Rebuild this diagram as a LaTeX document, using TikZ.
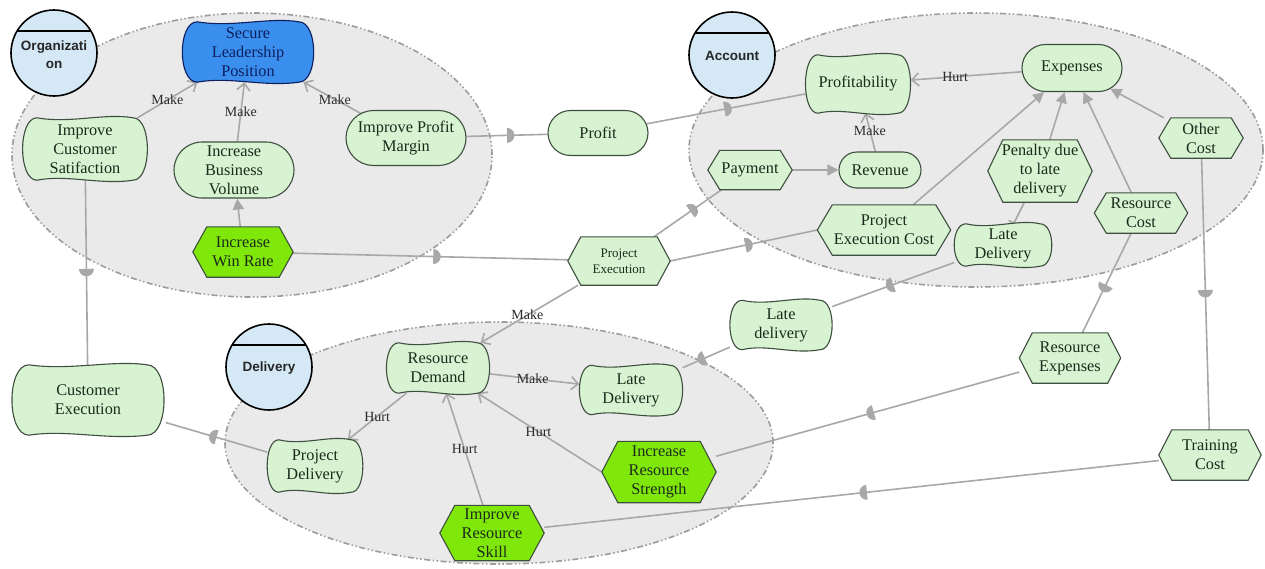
\documentclass[tikz,border=0pt]{standalone}
\usepackage{fontspec}
\setmainfont{Liberation Serif}
\setsansfont{Liberation Sans}
\usetikzlibrary{shapes.misc,arrows.meta,calc,decorations.markings}
\pgfdeclarelayer{ell}\pgfdeclarelayer{edges}\pgfdeclarelayer{shp}
\pgfsetlayers{ell,edges,shp,main}
\definecolor{ellfill}{HTML}{EAEAEA}
\definecolor{elldraw}{HTML}{9C9C9C}
\definecolor{nodefill}{HTML}{D7F3D1}
\definecolor{bright}{HTML}{80E70A}
\definecolor{slpblue}{HTML}{3A8FEE}
\definecolor{slptext}{HTML}{0D1F5E}
\definecolor{circfill}{HTML}{D4E9F5}
\definecolor{edgecol}{HTML}{A8A8A8}
\definecolor{bordercol}{HTML}{3F4F3F}
\definecolor{txtcol}{HTML}{1C2A1C}
\definecolor{lblcol}{HTML}{2A2A2A}
\newcommand\wavyshape[3]{%
\path[draw=#3, line width=1.1pt, fill=#2]
 ($(#1.north west)!0.12!(#1.north east)$)
 .. controls ($(#1.north west)!0.38!(#1.north east)+(0pt,-6pt)$) and ($(#1.north west)!0.66!(#1.north east)+(0pt,5pt)$) .. ($(#1.north west)!0.88!(#1.north east)$)
 .. controls ([xshift=4pt]#1.north east) and ([xshift=4pt]#1.south east) .. ($(#1.south west)!0.88!(#1.south east)$)
 .. controls ($(#1.south west)!0.62!(#1.south east)+(0pt,-5pt)$) and ($(#1.south west)!0.36!(#1.south east)+(0pt,6pt)$) .. ($(#1.south west)!0.12!(#1.south east)$)
 .. controls ([xshift=-4pt]#1.south west) and ([xshift=-4pt]#1.north west) .. ($(#1.north west)!0.12!(#1.north east)$) -- cycle;}
\newcommand\hexshape[3]{%
\path[draw=bordercol, line width=1.1pt, fill=#2] (#1.west) -- ([xshift=#3]#1.north west) -- ([xshift=-#3]#1.north east) -- (#1.east) -- ([xshift=-#3]#1.south east) -- ([xshift=#3]#1.south west) -- cycle;}
\begin{document}
\begin{tikzpicture}[x=1pt,y=-1pt,
 txt/.style={font=\fontsize{16.3}{19}\selectfont, text=txtcol, align=center, inner sep=0pt},
 wv/.style={txt, draw=none},
 hx/.style={txt, draw=none},
 st/.style={txt, rounded rectangle, draw=bordercol, line width=1.1pt, fill=nodefill},
 grp/.style={circle, draw=black, line width=1.6pt, fill=circfill, minimum size=86pt, inner sep=0pt,
   path picture={\draw[black,line width=1.4pt] ([yshift=-21pt]path picture bounding box.north west) -- ([yshift=-21pt]path picture bounding box.north east);}},
 grptxt/.style={font=\sffamily\bfseries\fontsize{13.5}{18}\selectfont, align=center, text=black!85, inner sep=0pt},
 ellst/.style={fill=ellfill, draw=elldraw, line width=1.6pt, dash pattern=on 6pt off 2.5pt on 1.5pt off 2.5pt on 1.5pt off 2.5pt},
 con/.style={draw=edgecol, line width=1.6pt},
 mk/.style={con, -{Straight Barb[length=7pt,width=13pt]}},
 tri/.style={con, -{Triangle[length=11pt,width=11pt]}},
 barend/.style={con, -{Bar[width=12pt]}},
 halfdisc/.style={postaction={decorate,decoration={markings,mark=at position #1 with {\fill[edgecol] (0pt,-7.5pt) arc[start angle=-90,end angle=90,radius=7.5pt] -- cycle;}}}},
 lbl/.style={font=\fontsize{14}{15}\selectfont, text=lblcol, inner sep=1pt}
]
\useasboundingbox (0,0) rectangle (1265,568);

% group circles
\node[grp] (org) at (54,53) {};
\node[grptxt] (orgt) at (54,55) {Organizati\\on};
\node[grp] (acc) at (732,55) {};
\node[grptxt] (acct) at (732,56) {Account};
\node[grp] (del) at (269,367) {};
\node[grptxt] (delt) at (269,368) {Delivery};

% nodes
\node[wv, minimum width=133pt, minimum height=60pt, text=slptext] (slp) at (248,52) {Secure\\Leadership\\Position};
\node[wv, minimum width=126pt, minimum height=62pt] (ics) at (85,149) {Improve\\Customer\\Satifaction};
\node[st, minimum width=120pt, minimum height=56pt] (ibv) at (234,170) {Increase\\Business\\Volume};
\node[st, minimum width=120pt, minimum height=55pt] (ipm) at (406,138) {Improve Profit\\Margin};
\node[hx, minimum width=100pt, minimum height=50pt] (iwr) at (243,252) {Increase\\Win Rate};
\node[st, minimum width=100pt, minimum height=45pt] (profit) at (598,133) {Profit};
\node[wv, minimum width=105pt, minimum height=58pt] (pfb) at (858,84) {Profitability};
\node[st, minimum width=100pt, minimum height=47pt] (exp) at (1072,68) {Expenses};
\node[st, minimum width=82pt, minimum height=36pt] (rev) at (880,170) {Revenue};
\node[hx, minimum width=84pt, minimum height=39pt] (pay) at (750,170) {Payment};
\node[hx, minimum width=133pt, minimum height=50pt] (pec) at (884,230) {Project\\Execution Cost};
\node[hx, minimum width=104pt, minimum height=62pt] (pen) at (1040,171) {Penalty due\\to late\\delivery};
\node[wv, minimum width=97pt, minimum height=42pt] (lda) at (1003,245) {Late\\Delivery};
\node[hx, minimum width=93pt, minimum height=40pt] (rc) at (1141,213) {Resource\\Cost};
\node[hx, minimum width=84pt, minimum height=40pt] (oc) at (1201,138) {Other\\Cost};
\node[hx, minimum width=102pt, minimum height=48pt, font=\fontsize{13}{16}\selectfont] (pe) at (619,261) {Project\\Execution};
\node[wv, minimum width=102pt, minimum height=49pt] (ldo) at (781,325) {Late\\delivery};
\node[hx, minimum width=101pt, minimum height=50pt] (rex) at (1070,358) {Resource\\Expenses};
\node[hx, minimum width=102pt, minimum height=50pt] (tc) at (1210,455) {Training\\Cost};
\node[wv, minimum width=155pt, minimum height=70pt] (ce) at (88,400) {Customer\\Execution};
\node[wv, minimum width=103pt, minimum height=50pt] (rd) at (438,368) {Resource\\Demand};
\node[wv, minimum width=103pt, minimum height=49pt] (ldd) at (631,390) {Late\\Delivery};
\node[wv, minimum width=95pt, minimum height=52pt] (pd) at (315,466) {Project\\Delivery};
\node[hx, minimum width=114pt, minimum height=61pt] (irs) at (659,472) {Increase\\Resource\\Strength};
\node[hx, minimum width=104pt, minimum height=55pt] (irk) at (492,533) {Improve\\Resource\\Skill};

% shapes
\begin{pgfonlayer}{shp}
\wavyshape{slp}{slpblue}{slptext}
\wavyshape{ics}{nodefill}{bordercol}
\wavyshape{pfb}{nodefill}{bordercol}
\wavyshape{lda}{nodefill}{bordercol}
\wavyshape{ldo}{nodefill}{bordercol}
\wavyshape{ce}{nodefill}{bordercol}
\wavyshape{rd}{nodefill}{bordercol}
\wavyshape{ldd}{nodefill}{bordercol}
\wavyshape{pd}{nodefill}{bordercol}
\hexshape{iwr}{bright}{14pt}
\hexshape{pay}{nodefill}{12pt}
\hexshape{pec}{nodefill}{15pt}
\hexshape{pen}{nodefill}{15pt}
\hexshape{rc}{nodefill}{12pt}
\hexshape{oc}{nodefill}{12pt}
\hexshape{pe}{nodefill}{13pt}
\hexshape{rex}{nodefill}{13pt}
\hexshape{tc}{nodefill}{13pt}
\hexshape{irs}{bright}{16pt}
\hexshape{irk}{bright}{15pt}
\end{pgfonlayer}

% connectors
\begin{pgfonlayer}{edges}
\draw[mk] (ics) -- node[lbl,pos=0.5]{Make} (slp);
\draw[mk] (ibv) -- node[lbl,pos=0.5]{Make} (slp);
\draw[mk] (ipm) -- node[lbl,pos=0.45]{Make} (slp);
\draw[tri] (iwr) -- (ibv);
\draw[con, halfdisc=0.5] (ipm) -- (profit);
\draw[con, halfdisc=0.49] (profit) -- (pfb);
\draw[con, halfdisc=0.48] (ics) -- (ce);
\draw[con, halfdisc=0.5] (pd) -- (ce);
\draw[con, halfdisc=0.51] (iwr) -- (pe);
\draw[con, halfdisc=0.54] (pe) -- (pay);
\draw[con, halfdisc=0.51] (pe.east) -- (pec.west);
\draw[mk] (pe) -- node[lbl,pos=0.52]{Make} (rd);
\draw[mk] (exp) -- node[lbl,pos=0.6]{Hurt} (pfb);
\draw[mk] (rev) -- node[lbl,pos=0.55]{Make} (pfb);
\draw[tri] (pay) -- (rev);
\draw[tri] (pec) -- (exp);
\draw[tri] (pen) -- (exp);
\draw[tri] (rc) -- (exp);
\draw[tri] (oc) -- (exp);
\draw[barend] (pen) -- (lda);
\draw[con, halfdisc=0.5] (lda) -- (ldo);
\draw[con, halfdisc=0.53] (ldo) -- (ldd);
\draw[con, halfdisc=0.52] (rc) -- (rex);
\draw[con, halfdisc=0.485] (oc) -- (tc);
\draw[con, halfdisc=0.48] (rex) -- (irs);
\draw[con, halfdisc=0.475] (tc) -- (irk);
\draw[mk] (rd) -- node[lbl,pos=0.48]{Make} (ldd);
\draw[mk] (rd) -- node[lbl,pos=0.5]{Hurt} (pd);
\draw[mk] (irs.west) -- node[lbl,pos=0.51]{Hurt} (rd);
\draw[mk] (irk) -- node[lbl,pos=0.5]{Hurt} (rd);
\end{pgfonlayer}

% group ellipses
\begin{pgfonlayer}{ell}
\fill[white] (0,0) rectangle (1265,568);
\draw[ellst] (252,155) ellipse[x radius=240pt, y radius=142pt];
\draw[ellst] (976,150) ellipse[x radius=287pt, y radius=137pt];
\draw[ellst] (499,443) ellipse[x radius=274pt, y radius=121pt];
\end{pgfonlayer}
\end{tikzpicture}
\end{document}
